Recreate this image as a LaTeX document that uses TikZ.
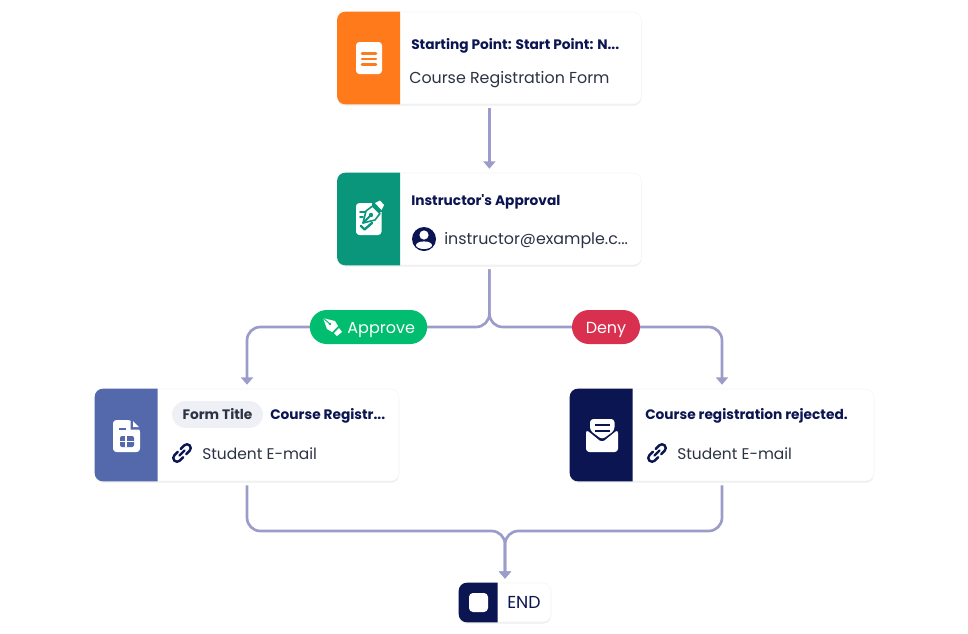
\documentclass[tikz,border=0pt]{standalone}
\usepackage{fontspec}
\setmainfont{Poppins}[Ligatures=TeXOff]
\usetikzlibrary{arrows.meta,backgrounds,calc,shadows}
\definecolor{navy}{HTML}{0A1551}
\definecolor{inktext}{HTML}{2C3345}
\definecolor{flowline}{HTML}{9C9CCB}
\definecolor{startorange}{HTML}{FF7A1A}
\definecolor{approvalteal}{HTML}{09967A}
\definecolor{formblue}{HTML}{5369AB}
\definecolor{approvegreen}{HTML}{01BD6F}
\definecolor{denyred}{HTML}{D9304F}
\definecolor{tagback}{HTML}{EEF0F5}
\tikzset{>={Triangle[width=9pt,length=5.5pt]},
  node distance=120.75pt,
  card/.style={rectangle,rounded corners=6pt,draw=black!4,fill=white,minimum width=228pt,minimum height=69pt,
    drop shadow={shadow xshift=0pt,shadow yshift=-1.2pt,opacity=.10,fill=black!70}},
  endcard/.style={card,minimum width=69pt,minimum height=29.25pt},
  flow/.style={draw=flowline,line width=2pt,rounded corners=10pt,shorten <=3pt,shorten >=3pt},
  cardtitle/.style={anchor=base west,inner sep=0pt,text=navy,font=\fontsize{10.3}{12}\selectfont\bfseries},
  cardtext/.style={anchor=base west,inner sep=0pt,text=inktext,font=\fontsize{11.9}{14}\selectfont},
  pill/.style={rectangle,rounded corners=12.7pt,minimum height=25.5pt,inner sep=0pt,text=white,text height=9pt,text depth=0pt,font=\fontsize{12}{14}\selectfont},
  linkicon/.pic={
    \draw[navy,line width=1.8pt,line cap=round,rotate=45] (-2,-3.8) -- (-7,-3.8) arc[start angle=270,end angle=90,radius=3.8] -- (-2,3.8);
    \draw[navy,line width=1.8pt,line cap=round,rotate=45] (2,-3.8) -- (7,-3.8) arc[start angle=-90,end angle=90,radius=3.8] -- (2,3.8);
    \draw[navy,line width=1.8pt,line cap=round,rotate=45] (-3.5,0) -- (3.5,0);
  },
  nibicon/.style={fill=white,line join=round}
}
\newcommand{\cardstrip}[3]{\fill[#2] ($(#1.north west)+(#3,0)$) [rounded corners=6pt] -- (#1.north west) -- (#1.south west) [sharp corners] -- ($(#1.south west)+(#3,0)$) -- cycle;}
\begin{document}
\begin{tikzpicture}[x=0.75pt,y=-0.75pt]
  \useasboundingbox (0,0) rectangle (968,633);

  \node[card] (start) at (489.4,58) {};
  \node[card] (approval) [below of=start] {};
  \node[card] (form) at (247,435) {};
  \node[card] (rejected) at (722,435) {};
  \node[endcard] (finish) at (505,602.5) {};
  \coordinate (join) at (505,531);

  \node[pill,fill=approvegreen,minimum width=88pt] (approve) at (368.5,327) {\hspace{19pt}Approve};
  \node[pill,fill=denyred,minimum width=51pt] (deny) at (606,327) {Deny};

  \begin{scope}[on background layer]
    \draw[flow,->] (start.south) -- (approval.north);
    \draw[flow,->] (approval.south) |- (approve.center) -| (form.north);
    \draw[flow,->] (approval.south) |- (deny.center) -| (rejected.north);
    \draw[flow,->] (form.south) |- (join) -- (finish.north);
    \draw[flow,->] (rejected.south) |- (join) -- (finish.north);
  \end{scope}

  \cardstrip{start}{startorange}{63}
  \cardstrip{approval}{approvalteal}{63}
  \cardstrip{form}{formblue}{63}
  \cardstrip{rejected}{navy}{63}
  \cardstrip{finish}{navy}{39}

  % start icon
  \fill[white,rounded corners=2.5pt] (356,42) rectangle (382,74);
  \foreach \y in {53.5,59,64.5}
    \draw[startorange,line width=2pt,line cap=round] (362,\y) -- (376,\y);

  % approval icon
  \fill[white,rounded corners=2.5pt] (356,203) rectangle (381.5,235);
  \fill[approvalteal] (372,201) rectangle (385,212);
  \filldraw[fill=white,draw=approvalteal,line width=1.2pt,line join=round] (363,223) -- (366,211) -- (372.5,206) -- (380,213.5) -- (375,220) -- cycle;
  \draw[approvalteal,line width=1.4pt,line cap=round] (363,223) -- (370,216);
  \fill[approvalteal] (371,215) circle (2.2);
  \fill[white] (375,203) -- (380,200.5) -- (384,205) -- (381.5,210) -- cycle;
  \draw[approvalteal,line width=1.3pt,line cap=round] (360,212) -- (365,212) (360,217) -- (363,217);
  \draw[approvalteal,line width=1.8pt,line cap=round,line join=round] (361,226) -- (364.5,229.5) -- (372,223);

  % form icon
  \fill[white,rounded corners=2.5pt] (113,420) -- (131,420) -- (140,429) -- (140,452) -- (113,452) -- cycle;
  \fill[formblue] (130.5,420) -- (130.5,429.5) -- (140,429.5) -- (140,424) -- (135,420) -- cycle;
  \fill[white] (133,421) -- (133,427) -- (139,427) -- cycle;
  \draw[formblue,line width=1.4pt] (119,429) -- (126,429);
  \fill[formblue,rounded corners=1.5pt] (120,436) rectangle (134,447);
  \draw[white,line width=1pt] (120,441.5) -- (134,441.5) (126,436) -- (126,447);

  % rejected icon
  \fill[white,rounded corners=2.5pt] (586,429.5) -- (602,442.5) -- (618,429.5) -- (618,452) -- (586,452) -- cycle;
  \fill[white,rounded corners=2.5pt] (590,430.5) -- (590,419) -- (614.5,419) -- (614.5,430.5) -- (602.2,439.5) -- cycle;
  \draw[navy,line width=1.5pt] (595,425) -- (610,425) (595,431) -- (610,431);

  % end icon
  \fill[white,rounded corners=3pt] (469,593) rectangle (488,612);

  % avatar
  \fill[navy] (424,239) circle (12);
  \fill[white] (424,235) circle (4.6);
  \fill[white] (424,245.2) ellipse [x radius=8,y radius=3.8];

  % nib in the approve pill
  \begin{scope}[shift={(332,327)}]
    \fill[nibicon] (-9,-9) -- (3,-6) -- (6,-1) -- (0,5) -- (-5,2) -- cycle;
    \draw[approvegreen,line width=.7pt] (-9,-9) -- (-2,-3);
    \fill[approvegreen] (-2,-3) circle (1.3);
    \fill[nibicon] (7,1) -- (10,5) -- (5,9) -- (2,6) -- cycle;
  \end{scope}

  \path (182,453) pic {linkicon} (657,453) pic {linkicon};

  \node[cardtitle] (starttitle) at (411,49) {Starting Point: Start Point: N...};
  \node[cardtext] (starttext) at (409,83) {Course Registration Form};
  \node[cardtitle] (approvaltitle) at (411,205) {Instructor's Approval};
  \node[cardtext] (approvaltext) at (444,244) {instructor@example.c...};
  \node[pill,fill=tagback,minimum width=68.25pt,minimum height=20pt,rounded corners=10pt,text=inktext,text height=6.8pt,font=\fontsize{10.3}{12}\selectfont\bfseries] (formtag) at (217.5,414.5) {Form Title};
  \node[cardtitle] (formtitle) at (270,419) {Course Registr...};
  \node[cardtext,font=\fontsize{11.6}{14}\selectfont] (formtext) at (202,459) {Student E-mail};
  \node[cardtitle] (rejectedtitle) at (645,419) {Course registration rejected.};
  \node[cardtext,font=\fontsize{11.6}{14}\selectfont] (rejectedtext) at (677,459) {Student E-mail};
  \node[cardtext,text=navy,font=\fontsize{13}{14}\selectfont] (finishtext) at (507,608) {END};
\end{tikzpicture}
\end{document}
